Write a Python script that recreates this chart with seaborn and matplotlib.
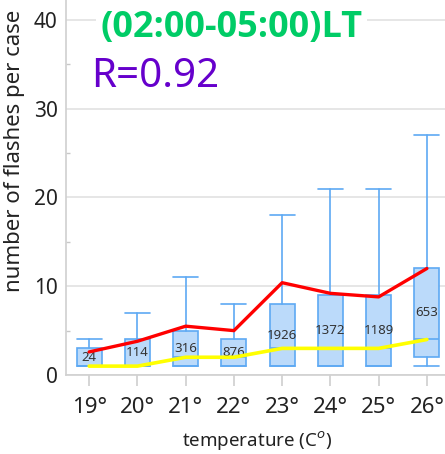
import numpy as np
import pandas as pd
import matplotlib
matplotlib.use("Agg")
import matplotlib.pyplot as plt
import seaborn as sns

# values
temps = [19, 20, 21, 22, 23, 24, 25, 26]
counts = [24, 114, 316, 876, 1926, 1372, 1189, 653]
whis_low = [1, 1, 1, 1, 1, 1, 1, 1]
q1 = [1, 1, 1, 1, 1, 1, 1, 2]
median = [1, 1, 2, 2, 3, 3, 3, 4]
q3 = [3, 4, 5, 4, 8, 9, 9, 12]
whis_high = [4, 7, 11, 8, 18, 21, 21, 27]
mean_flashes = [2.6, 3.8, 5.5, 5.0, 10.4, 9.2, 8.8, 12.0]

df = pd.DataFrame({"temp": temps, "mean": mean_flashes, "median": median})

sns.set_theme(style="whitegrid")
plt.rcParams['font.family'] = ['Noto Sans', 'DejaVu Sans']

fig = plt.figure(figsize=(4.45, 4.54), dpi=100)
ax = fig.add_axes([66 / 445, 79 / 454, 379 / 445, 375 / 454])

box_face = '#bbdafa'
box_edge = '#5ea9f3'

stats = []
for i in range(len(temps)):
    stats.append({'whislo': whis_low[i], 'q1': q1[i], 'med': median[i],
                  'q3': q3[i], 'whishi': whis_high[i], 'fliers': []})

ax.bxp(stats, positions=temps, widths=0.52, patch_artist=True,
       showfliers=False, capwidths=0.52,
       boxprops=dict(facecolor=box_face, edgecolor=box_edge, linewidth=1.2),
       whiskerprops=dict(color=box_edge, linewidth=1.2),
       capprops=dict(color=box_edge, linewidth=1.2),
       medianprops=dict(color=box_edge, linewidth=1.2),
       zorder=2)

# sample counts in the middle of each box
for t, a, b, n in zip(temps, q1, q3, counts):
    ax.text(t, (a + b) / 2, str(n), ha='center', va='center',
            fontsize=9.5, color='#333333', zorder=3)

sns.lineplot(data=df, x="temp", y="mean", color='#ff0000', linewidth=2.4,
             ax=ax, zorder=4)
sns.lineplot(data=df, x="temp", y="median", color='#ffff00', linewidth=2.6,
             ax=ax, zorder=4)

ax.set_xlim(18.52, 26.375)
ax.set_ylim(0, 42.25)
ax.set_xticks(temps)
ax.set_xticklabels([f"{t}°" for t in temps], fontsize=16, color='#222222')
ax.set_yticks([0, 10, 20, 30, 40])
ax.set_yticks([5, 15, 25, 35], minor=True)
ax.tick_params(axis='y', which='major', labelsize=15, length=0, pad=6,
               labelcolor='#222222')
ax.tick_params(axis='y', which='minor', direction='in', length=3,
               color='#c8c8c8', left=True)
ax.tick_params(axis='x', which='major', direction='out', length=8,
               color='#d0d0d0', bottom=True, pad=8)

ax.grid(axis='y', color='#e2e2e2', linewidth=1.2)
ax.grid(axis='x', visible=False)
for side in ['top', 'right']:
    ax.spines[side].set_visible(False)
for side in ['left', 'bottom']:
    ax.spines[side].set_color('#d0d0d0')
    ax.spines[side].set_linewidth(1.2)

ax.set_xlabel("temperature (C$^{o}$)", fontsize=13.5, color='#222222')
ax.xaxis.set_label_coords(0.505, -0.145)
ax.set_ylabel("number of flashes per case", fontsize=16, color='#222222')
ax.yaxis.set_label_coords(-0.108, 0.597)

ax.text(0.09, 0.925, "(02:00-05:00)LT", transform=ax.transAxes,
        ha='left', va='center', fontsize=26, fontweight='bold',
        family=['Open Sans', 'DejaVu Sans'],
        color='#00cc66', zorder=5,
        bbox=dict(facecolor='white', edgecolor='none', pad=3))
ax.text(0.066, 0.795, "R=0.92", transform=ax.transAxes,
        ha='left', va='center', fontsize=29, color='#6600cc', zorder=5)

fig.savefig("out.png", dpi=100)
